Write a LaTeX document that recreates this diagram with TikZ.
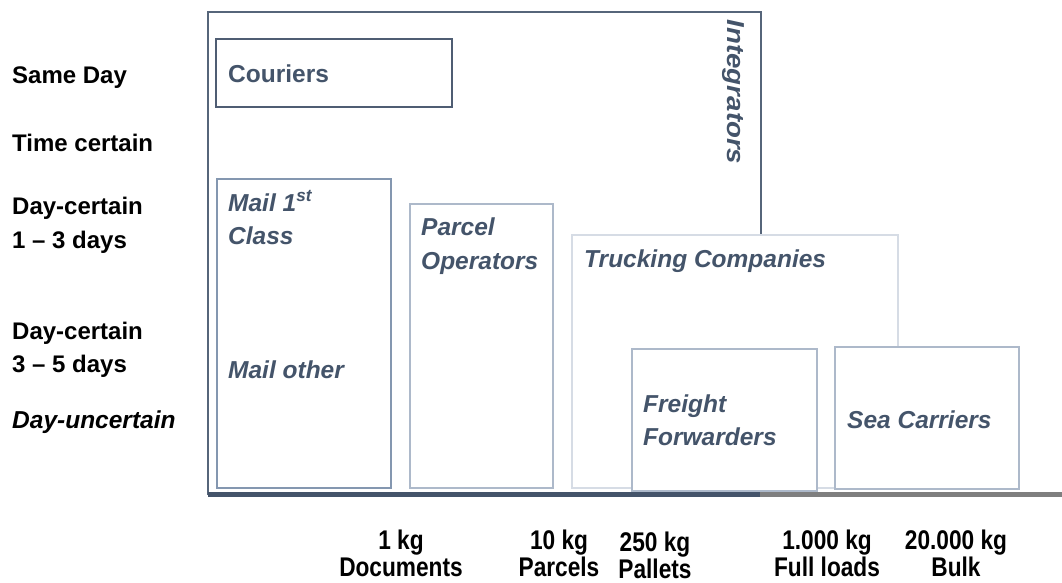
\documentclass[tikz,border=0pt]{standalone}
\usepackage{fontspec}
\setmainfont{Liberation Sans}
\newfontfamily\narrowfont[FakeStretch=0.84]{Liberation Sans}
\newfontfamily\widefont[FakeStretch=1.13]{Liberation Sans}
\definecolor{txt}{HTML}{44546A}
\definecolor{intc}{HTML}{56657A}
\definecolor{courc}{HTML}{4F5D73}
\definecolor{mailc}{HTML}{8497B0}
\definecolor{parc}{HTML}{ADB9CA}
\definecolor{truckc}{HTML}{D6DCE5}
\definecolor{axisgrey}{HTML}{7F7F7F}
\tikzset{
  box/.style={draw, line width=2pt, fill=white, inner sep=0pt, rectangle},
  lbl/.style={anchor=base west, inner sep=0pt, text=black, font=\bfseries\fontsize{24}{28}\selectfont},
  btxt/.style={anchor=base west, inner sep=0pt, text=txt, font=\bfseries\itshape\fontsize{24.5}{28}\selectfont},
  ctxt/.style={anchor=base west, inner sep=0pt, text=txt, font=\bfseries\fontsize{24.5}{28}\selectfont},
  wt/.style={anchor=base, inner sep=0pt, text=black, font=\narrowfont\bfseries\fontsize{27}{30}\selectfont},
}
\begin{document}
\begin{tikzpicture}[x=1pt,y=-1pt]
\useasboundingbox (0,0) rectangle (1062,582);
% boxes
\node[box, draw=intc, minimum width=553pt, minimum height=482pt] (integ) at (484.5,253) {};
\node[box, draw=courc, minimum width=236pt, minimum height=68pt] (cour) at (334,73) {};
\node[box, draw=mailc, minimum width=174pt, minimum height=309pt] (mail) at (304,333.5) {};
\node[box, draw=parc, minimum width=143pt, minimum height=284pt] (parcel) at (481.5,346) {};
\node[box, draw=truckc, minimum width=326pt, minimum height=253pt] (truck) at (735,361.5) {};
\node[box, draw=parc, minimum width=185pt, minimum height=142pt] (freight) at (724.5,420) {};
\node[box, draw=parc, minimum width=184pt, minimum height=142pt] (sea) at (927,418) {};
% axis
\coordinate (a0) at (208,494);
\coordinate (a1) at (760,494);
\coordinate (a2) at (1062,494);
\draw[axisgrey, line width=5pt] (a1) -- (a2);
\draw[txt, line width=5pt] (a0) -- (a1);
% box texts
\node[ctxt] (tcour) at (228,82) {Couriers};
\node[btxt, font=\widefont\bfseries\itshape\fontsize{24.5}{28}\selectfont, rotate=-90, anchor=center] (tint) at (733,92) {Integrators};
\node[btxt] (tmail1) at (228,211) {Mail 1\textsuperscript{st}};
\node[btxt] (tmail2) at (228,244) {Class};
\node[btxt] (tmail3) at (228,378) {Mail other};
\node[btxt] (tpar1) at (421,235) {Parcel};
\node[btxt] (tpar2) at (421,269) {Operators};
\node[btxt] (ttruck) at (584,267) {Trucking Companies};
\node[btxt] (tfr1) at (643,412) {Freight};
\node[btxt] (tfr2) at (643,445) {Forwarders};
\node[btxt] (tsea) at (847,428) {Sea Carriers};
% left labels
\node[lbl] (l1) at (12,83) {Same Day};
\node[lbl] (l2) at (12,151) {Time certain};
\node[lbl] (l3) at (12,214) {Day-certain};
\node[lbl] (l4) at (12,248) {1 – 3 days};
\node[lbl] (l5) at (12,339) {Day-certain};
\node[lbl] (l6) at (12,372) {3 – 5 days};
\node[lbl, font=\bfseries\itshape\fontsize{24.5}{28}\selectfont] (l7) at (12,428) {Day-uncertain};
% bottom labels
\node[wt] (w1a) at (401,549) {1 kg};
\node[wt] (w1b) at (401,576) {Documents};
\node[wt] (w2a) at (559,549) {10 kg};
\node[wt] (w2b) at (559,576) {Parcels};
\node[wt] (w3a) at (655,551) {250 kg};
\node[wt] (w3b) at (655,578) {Pallets};
\node[wt] (w4a) at (827,549) {1.000 kg};
\node[wt] (w4b) at (827,576) {Full loads};
\node[wt] (w5a) at (956,549) {20.000 kg};
\node[wt] (w5b) at (956,576) {Bulk};
\end{tikzpicture}
\end{document}
